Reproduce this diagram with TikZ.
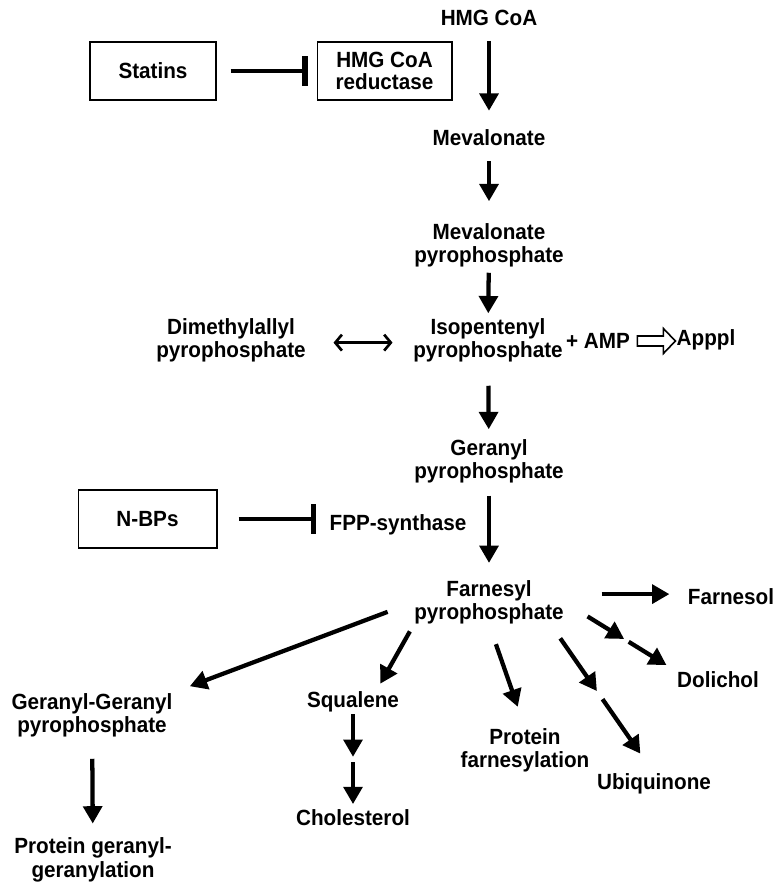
\documentclass[tikz,border=0pt]{standalone}
\usepackage{fontspec}
\setmainfont{Liberation Sans}[FakeStretch=0.94]
\usetikzlibrary{arrows.meta,calc}

\tikzset{every picture/.style={line width=0.75pt}}
\tikzset{
  lbl/.style={inner sep=0pt, align=center, font=\fontsize{16.5}{17.5}\selectfont\bfseries},
  agent/.style={lbl, draw, line width=1pt, minimum height=43.5pt, font=\fontsize{16.5}{16}\selectfont\bfseries},
  flow/.style={line width=3.2pt, -{Triangle[length=13pt,width=14pt]}},
  block/.style={line width=3.5pt, -{Bar[width=22pt,line width=3.8pt]}},
  swap/.style={line width=2pt, {Straight Barb[length=5pt,width=12pt]}-{Straight Barb[length=5pt,width=12pt]}},
  hollow/.style={line width=1.2pt, line join=miter}
}

\begin{document}
\begin{tikzpicture}[x=0.75pt,y=0.75pt,yscale=-1,xscale=1]
\useasboundingbox (0,0) rectangle (776,884);

%Shape: Rectangle
\node[agent, minimum width=94.5pt] (statins) at (153,71) {Statins};
%Shape: Rectangle
\node[agent, minimum width=101pt] (hmgr) at (384.5,71) {HMG CoA\\reductase};
%Shape: Rectangle
\node[agent, minimum width=104pt] (nbps) at (147.5,519) {N-BPs};

% Text Node
\node[lbl] (hmg) at (489,18) {HMG CoA};
% Text Node
\node[lbl] (meva) at (489,138) {Mevalonate};
% Text Node
\node[lbl] (mevpp) at (489,245) {Mevalonate\\pyrophosphate};
% Text Node
\node[lbl] (dmapp) at (231,340) {Dimethylallyl\\pyrophosphate};
% Text Node
\node[lbl] (ipp) at (488,340) {Isopentenyl\\pyrophosphate};
% Text Node
\node[lbl] (amp) at (598,341) {+ AMP};
% Text Node
\node[lbl] (apppl) at (706,340) {Apppl};
% Text Node
\node[lbl] (gpp) at (489,461) {Geranyl\\pyrophosphate};
% Text Node
\node[lbl] (fppsyn) at (398,525) {FPP-synthase};
% Text Node
\node[lbl] (fpp) at (489,602) {Farnesyl\\pyrophosphate};
% Text Node
\node[lbl] (farnesol) at (731,597) {Farnesol};
% Text Node
\node[lbl] (dolichol) at (718,680) {Dolichol};
% Text Node
\node[lbl] (gg) at (92,715) {Geranyl-Geranyl\\pyrophosphate};
% Text Node
\node[lbl] (squalene) at (353,702) {Squalene};
% Text Node
\node[lbl] (protfarn) at (525,750) {Protein\\farnesylation};
% Text Node
\node[lbl] (ubiq) at (654,784) {Ubiquinone};
% Text Node
\node[lbl] (chol) at (353,818) {Cholesterol};
% Text Node
\node[lbl] (protgg) at (93,860) {Protein geranyl-\\geranylation};

\coordinate (sqmid) at (353,759.5);
\coordinate (ubmid) at ($(fpp.-20)!0.475!(ubiq.north)$);
\coordinate (dolmid) at ($(fpp.east)!0.553!(dolichol.north west)$);

%Straight Lines (inhibition)
\draw[block, shorten <=10.5pt, shorten >=6.75pt] (statins.east) -- (hmgr.west);
\draw[block, shorten <=15.75pt, shorten >=9.5pt] (nbps.east) -- (nbps.east -| fppsyn.west);

%Straight Lines (main chain)
\draw[flow, shorten <=11pt, shorten >=14pt] (hmg) -- (meva);
\draw[flow, shorten <=11pt, shorten >=16pt] (meva) -- (mevpp);
\draw[flow, shorten <=4pt, shorten >=3.2pt] (mevpp) -- (ipp);
\draw[flow, shorten <=17.5pt, shorten >=7pt] (ipp) -- (gpp);
\draw[flow, shorten <=9.2pt, shorten >=12.5pt] (gpp) -- (fpp);

%Straight Lines (isomerase)
\draw[swap, shorten <=20.5pt, shorten >=15.2pt] (dmapp.-2) -- (dmapp.-2 -| ipp.west);

%Shape: Block Arrow
\draw[hollow] (amp.east) ++(7,-5) -- ++(26,0) -- ++(0,-7.5) -- ++(12,12.5) -- ++(-12,12.5) -- ++(0,-7.5) -- ++(-26,0) -- cycle;

%Straight Lines (branches)
\draw[flow, shorten <=21pt, shorten >=13.5pt] (fpp.west) -- (gg.north east);
\draw[flow, shorten <=6pt, shorten >=6.5pt] (fpp.south west) -- (squalene.25);
\draw[flow, shorten <=15.7pt, shorten >=16.5pt] (fpp.south) -- (protfarn.north);
\draw[flow, shorten <=12.7pt, shorten >=3.7pt] (fpp.-20) -- (ubmid);
\draw[flow, shorten <=3.7pt, shorten >=17.9pt] (ubmid) -- (ubiq.north);
\draw[flow, shorten <=20.6pt, shorten >=2pt] (fpp.east) -- (dolmid);
\draw[flow, shorten <=2pt, shorten >=9pt] (dolmid) -- (dolichol.north west);
\draw[flow, shorten <=28pt, shorten >=13.5pt] (fpp.6) -- (fpp.6 -| farnesol.west);

%Straight Lines (lower steps)
\draw[flow, shorten <=16pt, shorten >=10.5pt] (gg) -- (protgg);
\draw[flow, shorten <=1pt, shorten >=2pt] (squalene) -- (sqmid);
\draw[flow, shorten <=2pt, shorten >=4pt] (sqmid) -- (chol);

\end{tikzpicture}
\end{document}
